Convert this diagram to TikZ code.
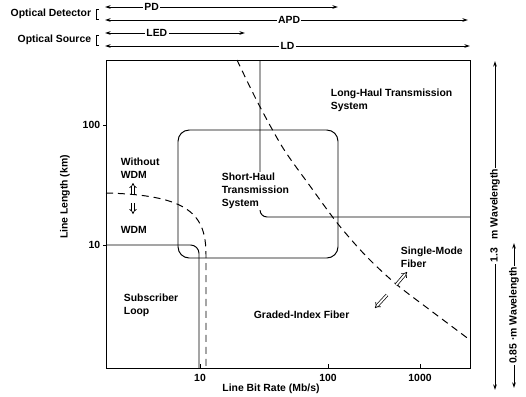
\documentclass[tikz,border=0pt]{standalone}
\usepackage{fontspec}
\setmainfont{Liberation Sans}
\usetikzlibrary{arrows.meta}

\begin{document}
\begin{tikzpicture}[x=0.025cm, y=-0.025cm, line width=0.7pt,
  lbl/.style={font=\fontsize{7.4}{9.3}\selectfont\bfseries, inner sep=1pt},
  devrange/.style={{Stealth[length=4pt,width=2.6pt]}-{Stealth[length=4pt,width=2.6pt]}},
  fiberline/.style={dash pattern=on 5pt off 3.5pt},
  hollow/.style={double, double distance=1.3pt, line width=0.5pt, -{Implies}}]
  \useasboundingbox (0,0) rectangle (526,396);
  % Device ranges
  \coordinate (pd-l) at (105,7);   \coordinate (pd-r) at (338,7);
  \coordinate (apd-l) at (105,20); \coordinate (apd-r) at (468,20);
  \coordinate (led-l) at (105,33); \coordinate (led-r) at (245,33);
  \coordinate (ld-l) at (105,46);  \coordinate (ld-r) at (470,46);
  \draw[devrange] (pd-l) -- (pd-r) node[lbl, fill=white, pos=0.2] (pd) {PD};
  \draw[devrange] (apd-l) -- (apd-r) node[lbl, fill=white, pos=0.507] (apd) {APD};
  \draw[devrange] (led-l) -- (led-r) node[lbl, fill=white, pos=0.37] (led) {LED};
  \draw[devrange] (ld-l) -- (ld-r) node[lbl, fill=white, pos=0.5] (ld) {LD};
  \node[lbl, anchor=east] (detector) at (93,14) {Optical Detector};
  \node[lbl, anchor=east] (source) at (93,40) {Optical Source};
  \draw[thin] (99,9) -- (96,9) -- (96,19) -- (99,19);
  \draw[thin] (99,35) -- (96,35) -- (96,45) -- (99,45);
  % Frame and ticks
  \draw (106,60) rectangle (470,368);
  \foreach \y/\t in {125/100, 245/10} {
    \draw (103,\y) -- (106,\y);
    \node[lbl, anchor=east] at (102,\y) {\t};
  }
  \foreach \x/\t in {200/10, 328/100, 420/1000} {
    \draw (\x,368) -- (\x,364);
    \node[lbl] at (\x,378) {\t};
  }
  \node[lbl] (xlabel) at (271,389) {Line Bit Rate (Mb/s)};
  \node[lbl, rotate=90] (ylabel) at (65,197) {Line Length (km)};
  % Regions
  \draw[rounded corners=8pt] (178,130) rectangle (338,258);
  \draw[rounded corners=6pt] (106,245) -- (199,245) -- (199,368);
  \draw[rounded corners=5pt] (260,60) -- (260,217) -- (470,217);
  \draw[fiberline] plot[smooth] coordinates {(237,60) (258,103) (283,148) (310,186)
    (338,224) (366,256) (396,284) (430,310) (470,340)};
  \draw[fiberline] (106,193) .. controls (190,195) and (206,215) .. (206,255) -- (206,368);
  % Region labels
  \node[lbl, fill=white, align=left, anchor=west] (short) at (220,191) {Short-Haul\\Transmission\\System};
  \node[lbl, align=left, anchor=west] (long) at (329,100) {Long-Haul Transmission\\System};
  \node[lbl, align=left, anchor=west] (single) at (399,257) {Single-Mode\\Fiber};
  \node[lbl, anchor=west] (graded) at (252,315) {Graded-Index Fiber};
  \node[lbl, align=left, anchor=west] (subscriber) at (122,305) {Subscriber\\Loop};
  \node[lbl, align=left, anchor=west] (without) at (119,168) {Without\\WDM};
  \node[lbl, anchor=west] (wdm) at (119,230) {WDM};
  \draw[hollow] (133,194) -- (133,183);
  \draw[hollow] (133,203) -- (133,214);
  \draw[hollow] (396,285) -- (407,272);
  \draw[hollow] (387,295) -- (375,308);
  % Wavelength ranges
  \coordinate (w13-b) at (495,390); \coordinate (w13-t) at (495,61);
  \coordinate (w85-b) at (514,388); \coordinate (w85-t) at (514,243);
  \draw[devrange] (w13-b) -- (w13-t) node[lbl, fill=white, rotate=90, pos=0.53] (w13) {1.3\ \ \ m Wavelength};
  \draw[devrange] (w85-b) -- (w85-t) node[lbl, fill=white, rotate=90, pos=0.5] (w85) {0.85 ·m Wavelength};
\end{tikzpicture}
\end{document}
